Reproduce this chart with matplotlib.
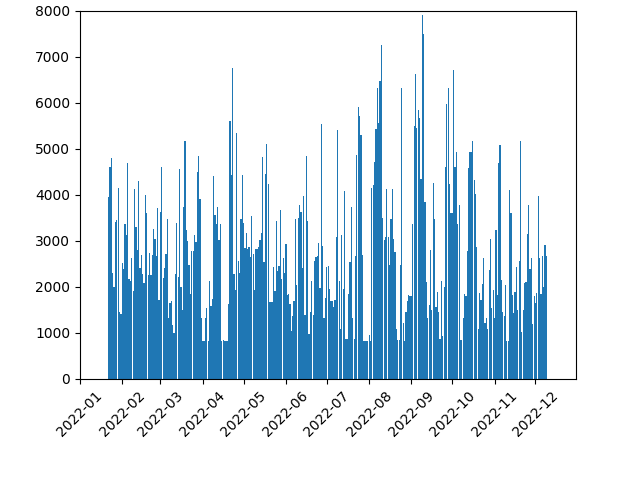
import matplotlib
matplotlib.use("Agg")
import matplotlib.pyplot as plt
import pandas as pd

start_date = "2022-01-22"

vals_jan_feb = [3950, 4600, 4800, 2300, 1990, 3410, 3450, 4150, 1460, 1410, 2510, 2380, 3370, 3120,
                4680, 2170, 2130, 2620, 1900, 4120, 3300, 2800, 4300, 2410, 2690, 2280, 2080, 4000, 3600]
vals_feb_mar = [2260, 2730, 2260, 2680, 3260, 3040, 2670, 3720, 1710, 3630, 4590, 2190, 2400, 2710,
                3460, 1330, 1650, 1680, 1160, 1000, 2270, 3390, 2210, 4550, 1990, 1490, 3740, 5160,
                3240, 2990, 2480, 1840, 2780, 2780]
vals_mar_apr = [3130, 2970, 4500, 4830, 3900, 1330, 810, 810, 1330, 1530, 810, 2130, 1570, 1730,
                4410, 3560, 3370, 3740, 3020, 3370, 830, 850, 830, 810, 810, 1620, 5600, 4420, 6750,
                2270, 1920, 5330, 2560, 2300]
vals_apr_may = [3480, 4420, 3390, 2840, 3170, 2820, 2870, 2640, 3540, 2710, 1920, 2820, 2820, 2860,
                3020, 3170, 4810, 2540, 4440, 5090, 4240, 1660, 1660, 1660, 2430, 1900, 3430, 2340,
                2450, 3670, 2170, 2620, 2300, 2930]
vals_may_jun = [1810, 1840, 1620, 1030, 1360, 1680, 3470, 2030, 3500, 3780, 3630, 2400, 3980, 1380,
                4850, 3430, 980, 1440, 2120, 1380, 2560, 2640, 2670, 2950, 1970, 5530, 2890, 1310,
                1750, 2430, 2450, 1950, 1680]
vals_jun_jul = [1680, 1550, 1700, 3080, 5400, 2120, 1070, 3130, 1950, 4070, 870, 870, 1840, 2540,
                3740, 1330, 870, 2670, 4870, 5900, 5710, 5290, 2690, 810, 810, 810, 810, 940, 810,
                4150, 4200, 4720, 5420, 6320]
vals_aug_sep = [5550, 6460, 7260, 3500, 3010, 3080, 4130, 3080, 2470, 3480, 4130, 3040, 2750, 1070,
                850, 850, 2470, 6320, 1220, 830, 1440, 1680, 1810, 1790, 1790, 3370, 5490, 6620,
                5440, 5840, 5660, 4330, 7910, 7500]
vals_sep_oct = [3850, 2100, 1310, 1600, 2800, 1490, 4260, 3460, 1550, 1880, 1460, 870, 2120, 920,
                1990, 4610, 5970, 6320, 4240, 3610, 3610, 6710, 4590, 4920, 3370, 3770, 850, 850,
                1310, 1840, 1790, 2780, 4570, 4920]
vals_oct_nov = [4920, 5160, 4310, 4020, 2860, 1070, 1860, 1700, 2050, 2620, 1220, 1310, 1070, 2360,
                3040, 1530, 1920, 1330, 3230, 1810, 4680, 5070, 2140, 1440, 1360, 2030, 810, 810,
                4090, 3600, 1810, 1420, 1880]
vals_nov_dec = [2430, 1490, 2560, 5160, 1010, 1490, 2080, 2100, 3150, 3770, 2380, 2620, 1180, 1790,
                1640, 1860, 3960, 2620, 1840, 2670, 1990, 2910, 2670]

values = (vals_jan_feb + vals_feb_mar + vals_mar_apr + vals_apr_may + vals_may_jun + vals_jun_jul
          + vals_aug_sep + vals_sep_oct + vals_oct_nov + vals_nov_dec)
dates = pd.date_range(start_date, periods=len(values), freq="D")

fig, ax = plt.subplots(figsize=(6.4, 4.8), dpi=100)
fig.subplots_adjust(left=0.125, right=0.9, bottom=0.211, top=0.978)
ax.bar(dates, values, width=0.9)
x0 = pd.Timestamp("2022-01-01")
ax.set_xlim(x0, x0 + pd.Timedelta(days=363.7))
ax.set_ylim(0, 8000)
plt.xticks(rotation=45)
fig.savefig("out.png", dpi=100)
